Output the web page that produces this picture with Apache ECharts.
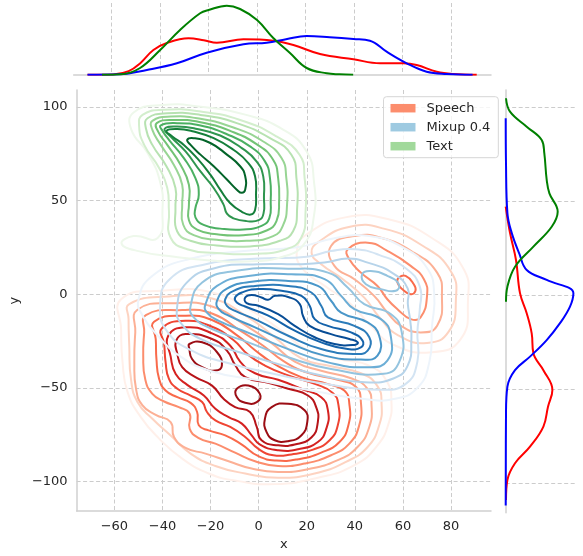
<!DOCTYPE html>
<html>
<head>
<meta charset="utf-8">
<title>Speech / Mixup / Text KDE</title>
<script src="https://cdn.jsdelivr.net/npm/echarts@6/dist/echarts.min.js"></script>
<style>
  html, body { margin: 0; padding: 0; background: #fff; }
  #chart { width: 583px; height: 556px; }
</style>
</head>
<body>
<div id="chart"></div>
<script>
// tick labels
const xTicks = [-60, -40, -20, 0, 20, 40, 60, 80];
const yTicks = [-100, -50, 0, 50, 100];

// ---- Speech (red) KDE contours, outer -> inner, [x, y]
const speechContours = [
  [[-57.2,-2.7],[-40,1.8],[-19.4,0.9],[-2.9,-8.9],[9.5,-19.5],[20.5,-30.1],[32.9,-34.6],[46.6,-38.5],[53.5,-47],[55.2,-57.6],[54.2,-68.3],[49.4,-80.7],[39.8,-91.3],[24.6,-98],[6.7,-101.4],[-8.4,-99.8],[-20.8,-95.7],[-31.8,-87.8],[-41.4,-77.1],[-49,-65.6],[-54.5,-52.3],[-56.6,-36.3],[-57.2,-18.6]],
  [[-53.8,-5.3],[-37.3,-1.2],[-19.4,-2.3],[-4.3,-12.4],[6.7,-23],[17.7,-34.2],[30.1,-38.5],[42.5,-42.2],[49.4,-49.1],[51.1,-58.5],[50.1,-70],[45.3,-81.6],[36.3,-89.5],[23.3,-95.7],[8.1,-98],[-5.6,-95.7],[-18,-91.7],[-28.3,-85.1],[-36.6,-75.4],[-44.2,-66.5],[-50.4,-57.6],[-53.1,-45.2],[-53.8,-27.5],[-54.1,-13.3]],
  [[-50.4,-8.3],[-34.5,-4.8],[-19.4,-6.6],[-5.6,-16.5],[5.4,-26.1],[15,-36],[26,-40.9],[38.4,-44.9],[45.3,-50.5],[46.9,-58.5],[46,-70.9],[41.1,-81.6],[32.9,-88.6],[20.5,-93.4],[8.1,-94.9],[-2.9,-93.1],[-12.5,-89.2],[-22.1,-85.1],[-30.4,-82.1],[-35.2,-76.2],[-36.6,-68.3],[-42.8,-64.4],[-48.3,-59.4],[-51,-50.5],[-51.7,-36.3],[-51.3,-20.4]],
  [[-46.9,-11.2],[-31.8,-8.5],[-19.4,-10.3],[-7,-20],[1.9,-27.5],[10.2,-35.6],[20.5,-42],[32.9,-45.7],[40.5,-49.6],[42.5,-57.6],[41.8,-70],[37.7,-79.8],[30.1,-86],[19.1,-90.4],[8.1,-91.7],[-1.5,-89.2],[-9.8,-84.6],[-18,-79.8],[-24.9,-76.8],[-28.7,-71.8],[-28.7,-63.8],[-33.2,-60.3],[-39.3,-57.3],[-44.2,-53.2],[-47.2,-45.2],[-48,-32.8],[-47.6,-20.4]],
  [[-43.5,-14.7],[-30.4,-11.5],[-19.4,-13.8],[-8.4,-22.5],[-1.5,-29.9],[6.7,-37.4],[17.7,-44.3],[28.8,-48],[35.6,-51.4],[37.7,-58.5],[37.3,-70],[33.6,-78.9],[26,-84.6],[16.4,-88.1],[7.4,-88.8],[-0.1,-86.5],[-7,-80.3],[-13.9,-75.4],[-20.8,-72.7],[-24.9,-70],[-25.6,-62.9],[-28.3,-58],[-33.8,-55],[-38.7,-51.4],[-41.4,-45.2],[-42.5,-34.6],[-42.8,-23.9]],
  [[-40.3,-18.3],[-30.4,-14.2],[-19.4,-17.4],[-10.5,-24.5],[-4.3,-32.4],[2.6,-38.1],[12.3,-43.4],[23.3,-47.9],[30.8,-52.7],[33.2,-59.4],[32.9,-70],[29.5,-78],[22.6,-83],[13.6,-85.6],[6.1,-86],[-0.1,-82.6],[-5.6,-76.2],[-11.8,-70.9],[-18,-67.4],[-21.5,-62.9],[-23.5,-57.6],[-28.3,-54.1],[-33.8,-50.5],[-37.3,-45.2],[-38.7,-36.3],[-39.3,-26.6]],
  [[-37.6,-22.2],[-30.4,-17.7],[-19.4,-20.9],[-11.8,-27.5],[-7.7,-36],[-1.5,-42.2],[8.1,-45.7],[17.7,-50.5],[26,-55],[28.8,-62.1],[28.2,-71.5],[24.6,-78.9],[16.4,-82.8],[8.1,-83.3],[0.6,-80.3],[-2.9,-75.4],[-7,-69.1],[-12.5,-65.6],[-18,-61.2],[-22.8,-54.1],[-29.7,-48.4],[-34.5,-42.6],[-36.6,-33.2]],
  [[-34.3,-24.8],[-30.4,-21.3],[-19.4,-23.9],[-13.2,-30.1],[-9.8,-37.8],[-5.6,-44.3],[4,-47.3],[12.3,-50.5],[20.5,-54.1],[23.9,-60.3],[24.6,-68.3],[21.9,-76.5],[15,-80.2],[8.1,-80.7],[1.2,-78],[-0.8,-70.9],[-3.6,-62.9],[-9.8,-60.3],[-14.6,-55.8],[-19.4,-48.8],[-26.3,-44.3],[-31.8,-39],[-33.8,-31.9]]
];
// three innermost peaks
const speechPeaks = [
  [[-28.8,-26.6],[-23.5,-25.7],[-17.3,-31],[-15.3,-38.1],[-18,-40.8],[-23.5,-39],[-27.7,-34.6],[-28.8,-29.3]],
  [[-9.1,-50.5],[-4.3,-48.8],[0.5,-53.2],[-0.8,-57.6],[-5.6,-58],[-9.1,-54.9]],
  [[2.6,-66.5],[5.4,-60.3],[12.2,-58.5],[19.1,-62],[20.2,-68.3],[17.7,-75.4],[12.2,-78.5],[6.7,-78],[3.3,-73.6]]
];
// small side lobe on the right, outer -> inner
const speechLobe = [
  [[20,32],[36,41],[54,40],[72,30],[85,14],[87,-4],[84,-24],[72,-31],[56,-27],[46,-16],[38,-5],[28,4],[18,14],[16,24]],
  [[25,28],[38,36],[52,35],[68,26],[80,12],[82,-3],[79,-20],[70,-26],[58,-22],[50,-12],[44,-2],[35,8],[26,16],[22,22]],
  [[30.1,25.7],[39.8,31],[50.8,30.1],[64.5,22.2],[74.2,11.5],[76.2,-0.9],[74.2,-16.8],[67.3,-20.4],[59,-16.8],[53.5,-9.8],[48,-0.9],[39.8,8],[31.5,15.1]],
  [[37,23.9],[45.3,27.5],[53.5,23.1],[63.2,15.1],[68.7,8],[70,-0.9],[67.3,-12.4],[63.2,-13.3],[57.7,-8],[53.5,-2.7],[49.4,4.4],[42.5,11.5],[37.7,18.6]],
  [[58.3,8.9],[61.1,9.8],[64.5,5.3],[65.2,1.8],[63.2,0],[59.7,2.7],[57.7,6.2]]
];

// ---- Mixup 0.4 (blue) KDE contours, outer -> inner
const mixupContours = [
  [[-50,-3],[-44,10],[-28,19],[-6,23],[16,25],[32,30],[46,31],[60,25],[70,14],[73,0],[72,-18],[71,-36],[66,-50],[56,-56],[44,-56],[24,-52],[0,-46],[-20,-41],[-34,-32],[-42,-22],[-48,-12]],
  [[-41,-7],[-37,8],[-22,16],[0,19],[20,20],[30,23],[40,24],[50,21],[61,14],[67,4],[67,-8],[66,-20],[66,-36],[61,-48],[50,-51],[28,-48],[8,-43],[-12,-37],[-28,-30],[-38,-20]],
  [[-34,-8],[-30,6],[-18,14],[0,16],[18,16],[28,17],[37,19],[45,17],[56,11],[62,3],[62,-5],[63,-14],[63.5,-24],[62,-38],[56,-45],[44,-47],[28,-44],[10,-38],[-8,-31],[-24,-24],[-32,-16]],
  [[-28.3,-6.2],[-23.5,6.2],[-9.8,12.4],[12.3,13.6],[28.8,11.5],[37,3.6],[43.9,-5.3],[54.9,-10.6],[59.5,-20.4],[58.5,-36],[52,-42.5],[30.1,-39.9],[12.3,-33.7],[-4.3,-25.7],[-19.4,-18.6],[-27,-12.4]],
  [[-22.1,-5.3],[-17.3,4.4],[-4.3,9.7],[13.6,10.6],[27.4,8],[34.3,-0.9],[39.8,-8],[50.8,-13.3],[54.9,-22.2],[53.5,-35.5],[45.3,-39],[28.8,-36.4],[12.3,-29.3],[-2.9,-21.3],[-16.6,-14.2],[-21.5,-9.8]],
  [[-17.3,-3.5],[-13.2,3],[-2.9,6.6],[12.3,7.1],[24.6,4.4],[30.1,-3.5],[34.3,-9.8],[45.3,-15.1],[50.1,-22.2],[49.4,-32.8],[42.5,-34.9],[27.4,-32.8],[12.3,-25.7],[-1.5,-17.7],[-12.5,-11.5],[-16.6,-8]],
  [[-13.9,-2.7],[-10.4,1.8],[-1.5,4.4],[12.3,4.4],[21.9,0.9],[26,-6.2],[28.8,-12.4],[39.8,-16.9],[46,-23],[45.3,-30.1],[39.8,-31.9],[26,-29.3],[12.3,-22.2],[-0.1,-14.2],[-9.8,-8.9],[-13.2,-6.2]],
  [[-9.8,-1.8],[-7,0.9],[-0.1,2.7],[9.5,1.8],[17.8,-0.9],[21.2,-6.2],[23.3,-13.3],[28.8,-16.9],[38.4,-20.4],[43.2,-24.8],[42.5,-28.4],[37,-29.3],[26,-25.7],[15,-19.5],[4,-11.5],[-5.6,-6.6],[-9.1,-4.4]],
  [[-5.6,-1.8],[-2.9,-0.4],[1.2,-1.8],[3.9,-3],[6.8,-0.9],[12.9,-1.8],[17.1,-5.3],[18.4,-11.5],[21.2,-16.9],[30.1,-21.3],[37.7,-23.9],[41.2,-25.7],[39.8,-27.1],[31.5,-26.6],[23.3,-23],[15,-16.9],[8.1,-10.6],[-0.1,-6.2],[-5,-4.8]]
];
const mixupIsland = [[43,10.6],[46.6,12.4],[53.5,9.8],[58.3,5.3],[57,1.8],[50.8,2.7],[44.6,5.3]];

// ---- Text (green) KDE contours, outer -> inner
const textContours = [
  [[-53,88],[-52,97],[-40,101],[-24,100],[-6,96],[10,88],[20,76],[23,60],[23,42],[19,27],[10,20],[-5,17.5],[-20,18],[-35,20],[-50,23],[-57,27],[-52,31],[-42,30],[-40,45],[-41,60],[-46,75]],
  [[-49.7,89.5],[-48.3,95.7],[-39.4,98.4],[-24.2,97.5],[-7.7,93],[7.4,84.2],[17,74.4],[19.1,62],[19.5,44.3],[17.7,30.1],[11.5,24],[-2.2,21.5],[-17.4,22],[-29.7,24],[-36.6,30.1],[-37.3,44.3],[-38,56.7],[-41.4,67.4],[-47.6,79.7]],
  [[-46.9,88.6],[-46.2,93.9],[-38,96.6],[-24.2,95.7],[-9.1,91.3],[4.7,83.3],[13.6,74.4],[15.7,62],[16,46],[14.3,33.6],[8.8,28.5],[-3.6,25.5],[-17.4,26],[-28.4,28.5],[-33.9,33.6],[-34.6,46],[-34.6,56.7],[-38.3,68.2],[-44.2,79.7]],
  [[-44.2,87.7],[-44.2,92.5],[-36.6,94.8],[-24.2,93.6],[-10.5,89],[1.9,81.5],[9.5,72.7],[11.5,62],[11.8,47.8],[10.2,37],[6,31],[-5,28.5],[-17.4,29],[-27,31.5],[-31.4,37.2],[-31.8,47.8],[-31.8,58.4],[-35.3,69.1],[-40.7,79.7]],
  [[-41.8,86.8],[-42.4,91.3],[-35.3,93],[-24.2,91.8],[-11.9,87.2],[-0.9,80.1],[6,71.8],[8.1,62],[8.5,49.6],[7.4,39],[3.3,34],[-6.4,31.5],[-17.4,32],[-25.6,34.5],[-29,39.5],[-29,47.8],[-29,58.4],[-32.5,69.1],[-38,79.7]],
  [[-40,87.2],[-40.7,90.1],[-33.9,91.3],[-24.2,90],[-13.2,85.4],[-3.6,78.9],[2.6,70.9],[4.7,62],[5,49.6],[4.4,40.5],[1.2,36.5],[-6.4,34.5],[-16,35],[-22.9,37],[-26.3,41],[-26.3,46],[-24.9,53.1],[-26.3,62],[-31.1,72.6],[-37.3,82.4]],
  [[-39.1,88.3],[-33.9,89.5],[-25.6,88.2],[-16,84.7],[-7,78],[-0.9,70.9],[1.9,62.9],[2.2,51.4],[2,43],[0,39.5],[-5,39],[-10.5,40.5],[-13.2,43],[-14.6,47.8],[-18.7,56.7],[-24.2,65.5],[-30.4,76.2],[-36.6,84.2]],
  [[-38.3,87.2],[-33.9,88.2],[-27,86.8],[-18.7,83.3],[-10.5,77.1],[-4.3,70],[-1.5,62.9],[-1.1,53.1],[-1.5,45],[-3.3,42.5],[-7,44],[-11.9,48.7],[-16,55.8],[-20.1,63.8],[-25.6,72.6],[-31.1,79.7],[-35.9,84.2]],
  [[-29.7,82.4],[-27,83.3],[-20.1,80.7],[-13.2,74.5],[-7.7,68.3],[-5.6,63],[-5.6,55.8],[-7,54.1],[-9.1,55.8],[-13.2,61.2],[-18.7,68.3],[-24.2,74.5],[-28.4,79.8]]
];

// ---- marginal densities (relative), top: [x, d], right: [d, y]
const speechTop = [[-70,0],[-59.4,0.3],[-53,3.5],[-48,12],[-42.8,24.7],[-37,32],[-28.3,36.4],[-22,34.5],[-16.6,32],[-5.6,35.4],[6.7,34],[15,29.7],[26,20.7],[39.8,15.4],[50.8,11.4],[60.4,11.4],[65.9,9.7],[74.2,3],[81,0.7],[90.7,0]];
const mixupTop = [[-70,0],[-56.6,0.4],[-45.5,4.7],[-33.1,11.4],[-20.8,22],[-5.6,30.4],[4,32],[12,35.5],[20.5,38.7],[30,37.5],[39.8,35.7],[46.6,34],[53.5,23],[61.8,11.4],[70,3],[78.3,0.7],[89,0]];
const textTop = [[-64,0],[-56,0.5],[-48.3,6.7],[-40,24.7],[-31.8,44.7],[-23.5,61.4],[-20,64.7],[-12.5,69],[-7,65.7],[0,54.7],[6.7,36.7],[13.6,21.7],[20.5,6.7],[28.8,1.4],[34,0.4],[39.7,0]];
const speechSide = [[0,47],[4.3,33],[10.3,18.6],[14.3,1],[21,-9.7],[26,-20.4],[27.7,-31],[37.7,-40],[46.7,-50.5],[42.3,-59.4],[37.7,-70],[24.3,-80.7],[9.3,-89.5],[1.7,-98.4],[0.3,-109]];
const mixupSide = [[0,94],[0.3,70],[1.7,43.5],[6,33],[13.6,22],[21,13.3],[41,8],[67.7,0.9],[64.3,-6.2],[54.3,-15],[41,-24],[24.3,-32.8],[9.3,-40],[1.7,-48.8],[0.3,-63],[0,-112]];
const textSide = [[0.3,104.6],[4.3,97.5],[21,89.5],[36,82.4],[38.6,75.4],[41,61.2],[43.7,54],[52,44.3],[46,36.3],[27.7,25.7],[9.3,15],[1.7,4.4],[0.3,-3.6]];

const reds = ['#fff0ea','#fdd3c1','#fcb095','#fc8d6d','#f96a4b','#ef4533','#d52221','#b71419','#9b0d14'];
const blues = ['#edf4fb','#d3e4f3','#b7d4ea','#94c4df','#6caed6','#4a97c9','#2c7cba','#1563aa','#084d96'];
const greens = ['#eef8eb','#d3eecd','#b7e2b1','#98d594','#72c375','#4bb062','#2f964f','#157f3b','#036429'];

const FONT = 'DejaVu Sans';
const TEXT = '#262626';
const SPINE = '#d0d0d0';
const GRID = '#cccccc';

// one custom series per group, each closed contour drawn as a smooth polygon outline
function contourSeries(name, loops) {
  return {
    type: 'custom', name: name, coordinateSystem: 'cartesian2d',
    xAxisIndex: 0, yAxisIndex: 0, silent: true, clip: true,
    data: loops.map((l, i) => [i]),
    renderItem: function (params, api) {
      const item = loops[params.dataIndex];
      return {
        type: 'polygon',
        shape: { points: item.pts.map(p => api.coord(p)), smooth: 0.5 },
        style: { fill: 'none', stroke: item.color, lineWidth: 2 }
      };
    }
  };
}
function margin(pts, color, ax) {
  return {
    type: 'line', xAxisIndex: ax, yAxisIndex: ax, data: pts,
    smooth: 0.4, symbol: 'none', lineStyle: { color: color, width: 2 }, silent: true
  };
}

const speechLoops = []
  .concat(speechContours.map((p, i) => ({ pts: p, color: reds[i] })))
  .concat(speechPeaks.map(p => ({ pts: p, color: reds[8] })))
  .concat(speechLobe.map((p, i) => ({ pts: p, color: reds[i] })));
const mixupLoops = mixupContours.map((p, i) => ({ pts: p, color: blues[i] }))
  .concat([{ pts: mixupIsland, color: blues[3] }]);
const textLoops = textContours.map((p, i) => ({ pts: p, color: greens[i] }));

const series = [
  contourSeries('Speech', speechLoops),
  contourSeries('Mixup 0.4', mixupLoops),
  contourSeries('Text', textLoops),
  margin(speechTop, '#ff0000', 1),
  margin(mixupTop, '#0000ff', 1),
  margin(textTop, '#008000', 1),
  margin(speechSide, '#ff0000', 2),
  margin(mixupSide, '#0000ff', 2),
  margin(textSide, '#008000', 2)
];

const dashed = { show: true, lineStyle: { color: GRID, width: 1, type: [4, 2.5] } };

const option = {
  animation: false,
  backgroundColor: '#ffffff',
  textStyle: { fontFamily: FONT },
  grid: [
    { left: 73.7, top: 90, width: 417.3, height: 422.7 },
    { left: 73.7, top: 3, width: 417.3, height: 71.7 },
    { left: 505.7, top: 90, width: 71.3, height: 422.7 }
  ],
  xAxis: [
    {
      gridIndex: 0, type: 'value', min: -75.7, max: 96.6,
      name: 'x', nameLocation: 'middle', nameGap: 26,
      nameTextStyle: { color: TEXT, fontSize: 13, fontFamily: FONT },
      axisLine: { show: true, onZero: false, lineStyle: { color: SPINE, width: 1.5 } },
      axisTick: { show: false, customValues: xTicks },
      axisLabel: { customValues: xTicks, color: TEXT, fontSize: 13, fontFamily: FONT, margin: 9,
        formatter: v => String(v).replace('-', '\u2212') },
      splitLine: dashed
    },
    {
      gridIndex: 1, type: 'value', min: -75.7, max: 96.6,
      axisLine: { show: true, onZero: false, lineStyle: { color: SPINE, width: 1.5 } },
      axisTick: { show: false, customValues: xTicks },
      axisLabel: { show: false, customValues: xTicks },
      splitLine: dashed
    },
    {
      gridIndex: 2, type: 'value', min: 0, max: 71.3,
      axisLine: { show: false }, axisTick: { show: false },
      axisLabel: { show: false }, splitLine: { show: false }
    }
  ],
  yAxis: [
    {
      gridIndex: 0, type: 'value', min: -115.8, max: 109,
      name: 'y', nameLocation: 'middle', nameGap: 52,
      nameTextStyle: { color: TEXT, fontSize: 13, fontFamily: FONT },
      axisLine: { show: true, onZero: false, lineStyle: { color: SPINE, width: 1.5 } },
      axisTick: { show: false, customValues: yTicks },
      axisLabel: { customValues: yTicks, color: TEXT, fontSize: 13, fontFamily: FONT, margin: 9,
        formatter: v => String(v).replace('-', '\u2212') },
      splitLine: dashed
    },
    {
      gridIndex: 1, type: 'value', min: 0, max: 71.7,
      axisLine: { show: false }, axisTick: { show: false },
      axisLabel: { show: false }, splitLine: { show: false }
    },
    {
      gridIndex: 2, type: 'value', min: -115.8, max: 109,
      axisLine: { show: true, onZero: false, lineStyle: { color: SPINE, width: 1.5 } },
      axisTick: { show: false, customValues: yTicks },
      axisLabel: { show: false, customValues: yTicks },
      splitLine: dashed
    }
  ],
  legend: {
    orient: 'vertical', left: 383.5, top: 96.7,
    icon: 'rect', itemWidth: 25, itemHeight: 8.5, itemGap: 6,
    padding: [5, 8, 5, 7],
    borderColor: '#d6d6d6', borderWidth: 1, borderRadius: 3,
    backgroundColor: 'rgba(255,255,255,0.8)',
    selectedMode: false,
    itemStyle: { borderWidth: 0 },
    textStyle: { color: TEXT, fontSize: 13, fontFamily: FONT, padding: [0, 0, 0, 6] },
    data: [
      { name: 'Speech', itemStyle: { color: '#fc8d6d' } },
      { name: 'Mixup 0.4', itemStyle: { color: '#9ecae1' } },
      { name: 'Text', itemStyle: { color: '#a1d99b' } }
    ]
  },
  series: series
};

const chart = echarts.init(document.getElementById('chart'), null, { renderer: 'canvas' });
chart.setOption(option);
</script>
</body>
</html>
